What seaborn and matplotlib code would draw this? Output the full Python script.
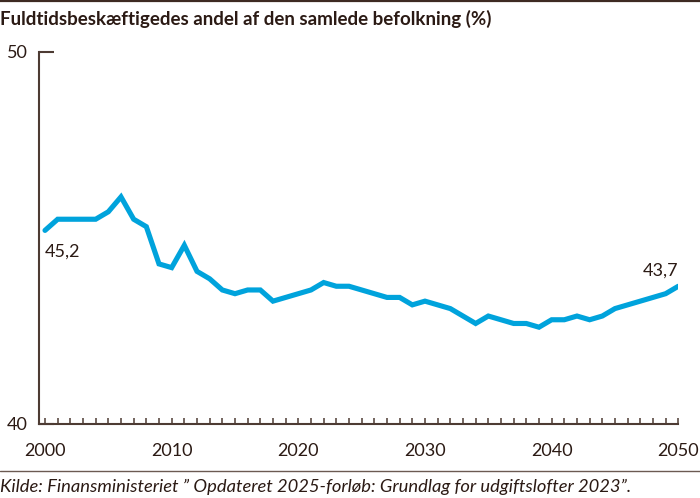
import matplotlib
matplotlib.use("Agg")
import matplotlib.pyplot as plt
import seaborn as sns
import pandas as pd
import numpy as np
from matplotlib.ticker import MultipleLocator, FixedLocator
from matplotlib.lines import Line2D

years = list(range(2000, 2051))
share = [45.2, 45.5, 45.5, 45.5, 45.5, 45.7, 46.1, 45.5, 45.3, 44.3,
         44.2, 44.8, 44.1, 43.9, 43.6, 43.5, 43.6, 43.6, 43.3, 43.4,
         43.5, 43.6, 43.8, 43.7, 43.7, 43.6, 43.5, 43.4, 43.4, 43.2,
         43.3, 43.2, 43.1, 42.9, 42.7, 42.9, 42.8, 42.7, 42.7, 42.6,
         42.8, 42.8, 42.9, 42.8, 42.9, 43.1, 43.2, 43.3, 43.4, 43.5,
         43.7]
title = "Fuldtidsbeskæftigedes andel af den samlede befolkning (%)"
source = "Kilde: Finansministeriet \u201d Opdateret 2025-forløb: Grundlag for udgiftslofter 2023\u201d."
first_label = "45,2"
last_label = "43,7"

df = pd.DataFrame({"year": years, "share": share})

sns.set_style("white")
plt.rcParams['font.family'] = ['Lato', 'DejaVu Sans']

TXT = "#2b1a14"
AX = "#4d3b33"
LINE = "#00a3dc"

fig = plt.figure(figsize=(7.0, 4.98), dpi=100)
fig.patch.set_facecolor("white")
ax = fig.add_axes([39/700, 1-424/498, (678.3-39)/700, (424-51.7)/498])
ax.set_facecolor("white")

sns.lineplot(data=df, x="year", y="share", ax=ax, color=LINE, linewidth=3.7,
             solid_capstyle="round", solid_joinstyle="miter")

ax.set_xlim(2000 - 6/12.666, 2050)
ax.set_ylim(40, 50)
ax.set_xlabel("")
ax.set_ylabel("")

for s in ["top", "right"]:
    ax.spines[s].set_visible(False)
for s in ["left", "bottom"]:
    ax.spines[s].set_color(AX)
    ax.spines[s].set_linewidth(1.5)

ax.xaxis.set_major_locator(MultipleLocator(10))
ax.xaxis.set_minor_locator(MultipleLocator(1))
ax.xaxis.set_major_formatter(matplotlib.ticker.FuncFormatter(lambda v, p: f"{int(v)}"))
ax.tick_params(axis="x", which="both", direction="in", length=4.5, width=1.1,
               color=AX, bottom=True)
ax.tick_params(axis="x", which="major", labelsize=13, labelcolor=TXT, pad=14)

ax.yaxis.set_major_locator(FixedLocator([40, 50]))
ax.tick_params(axis="y", which="major", direction="in", length=11, width=1.5,
               color=AX, left=True, labelsize=13, labelcolor=TXT, pad=8)

ax.annotate(first_label, xy=(years[0], share[0]), xytext=(0, -15),
            textcoords="offset points", ha="left", va="center",
            fontsize=13, color=TXT)
ax.annotate(last_label, xy=(years[-1], share[-1]), xytext=(0, 11.5),
            textcoords="offset points", ha="right", va="center",
            fontsize=13, color=TXT)

fig.text(0.0, 1-25/498, title, ha="left", va="baseline", fontsize=13.5,
         fontweight="bold", color=TXT)
fig.text(0.0, 1-487/498, source, ha="left", va="center", fontsize=13.2,
         style="italic", color=TXT)

fig.add_artist(Line2D([0, 1], [1-0.8/498, 1-0.8/498], transform=fig.transFigure,
                      color="#3d2a22", linewidth=1.6))
fig.add_artist(Line2D([0, 1], [1-471/498, 1-471/498], transform=fig.transFigure,
                      color="#6b5a52", linewidth=1.0))

fig.savefig("out.png", dpi=100, facecolor="white")
